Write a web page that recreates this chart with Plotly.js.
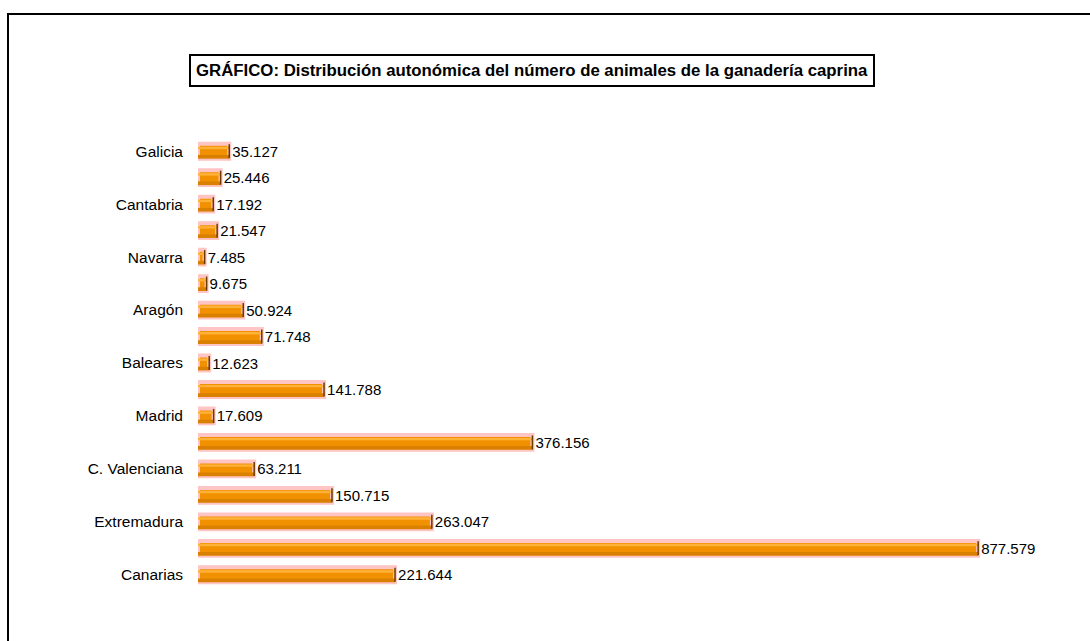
<!DOCTYPE html>
<html>
<head>
<meta charset="utf-8">
<script src="https://cdn.plot.ly/plotly-3.0.1.min.js"></script>
<style>
html,body{margin:0;padding:0;background:#fff;}
#wrap{position:relative;width:1090px;height:641px;overflow:hidden;}
#chart{position:absolute;left:0;top:0;width:1090px;height:641px;}
#frame{position:absolute;left:7px;top:13px;width:1200px;height:700px;border-top:2px solid #000;border-left:2px solid #000;pointer-events:none;}
</style>
</head>
<body>
<div id="wrap"><div id="chart"></div><div id="frame"></div></div>
<script>
const categories = ["Galicia","P. de Asturias","Cantabria","País Vasco","Navarra","La Rioja","Aragón","Cataluña","Baleares","Castilla y León","Madrid","Castilla-La Mancha","C. Valenciana","R. de Murcia","Extremadura","Andalucía","Canarias"];
const values = [35127,25446,17192,21547,7485,9675,50924,71748,12623,141788,17609,376156,63211,150715,263047,877579,221644];
const labeledCategories = ["Galicia","Cantabria","Navarra","Aragón","Baleares","Madrid","C. Valenciana","Extremadura","Canarias"];

function fmt(v){return String(v).replace(/\B(?=(\d{3})+(?!\d))/g,".");}
const texts = values.map(fmt);
const FONT = "Liberation Sans, Arial, sans-serif";

const main = {
  type:"bar", orientation:"h", x:values, y:categories,
  width:0.56,
  marker:{color:"#f29100", line:{color:"#ffc4c4", width:4}},
  text:texts, textposition:"outside", cliponaxis:false, constraintext:"none",
  textfont:{family:FONT, size:15, color:"#000"},
  hoverinfo:"x+y"
};
const highlight = {
  type:"bar", orientation:"h", x:values, y:categories,
  width:0.09, offset:-0.17,
  marker:{color:"#ffb23a", line:{width:0}},
  hoverinfo:"skip"
};
const shade = {
  type:"bar", orientation:"h", x:values, y:categories,
  width:0.14, offset:0.14,
  marker:{color:"#d98000", line:{width:0}},
  hoverinfo:"skip"
};
const caps = {
  type:"scatter", mode:"markers", x:values, y:categories,
  marker:{symbol:"line-ns-open", size:10, color:"#6b3a00", line:{color:"#6b3a00", width:1.5}},
  hoverinfo:"skip", cliponaxis:false
};

const layout = {
  width:1090, height:641,
  margin:{l:198, r:3, t:138, b:53},
  paper_bgcolor:"#fff", plot_bgcolor:"#fff",
  barmode:"overlay", showlegend:false,
  font:{family:FONT, size:15, color:"#000"},
  xaxis:{range:[0,1000000], visible:false, fixedrange:true},
  yaxis:{type:"category", categoryorder:"array", categoryarray:categories,
         range:[categories.length-0.5, -0.5], autorange:false,
         tickvals:labeledCategories, ticktext:labeledCategories,
         showline:false, showgrid:false, zeroline:false, ticks:"", ticklabelstandoff:14,
         tickfont:{family:FONT, size:15.5, color:"#000"}},
  annotations:[{
    xref:"paper", yref:"paper", x:0.3757, y:1.149, xanchor:"center", yanchor:"middle",
    text:"<b>GRÁFICO: Distribución autonómica del número de animales de la ganadería caprina</b>",
    showarrow:false, font:{family:FONT, size:16.8, color:"#000"},
    bordercolor:"#000", borderwidth:2, borderpad:5, bgcolor:"#fff"
  }]
};
Plotly.newPlot("chart", [main, highlight, shade, caps], layout, {displayModeBar:false, staticPlot:true});
</script>
</body>
</html>
